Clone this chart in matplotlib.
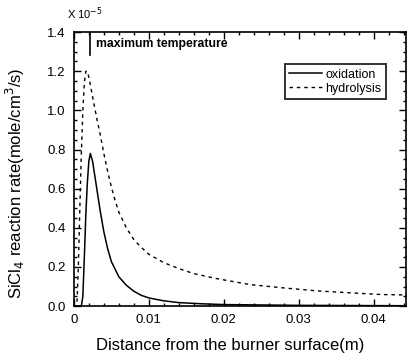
import matplotlib
matplotlib.use("Agg")
import matplotlib.pyplot as plt
from matplotlib.ticker import MultipleLocator, FormatStrFormatter

plt.rcParams['font.family'] = ['Liberation Sans', 'DejaVu Sans']

# data (rate in units of 1e-5 mole/cm3/s)
ox_x = [0.0, 0.0010, 0.0012, 0.0014, 0.0016, 0.0018, 0.0020, 0.0022, 0.0025,
        0.0030, 0.0035, 0.0040, 0.0045, 0.0050, 0.0060, 0.0070, 0.0080,
        0.0090, 0.0100, 0.0120, 0.0140, 0.0170, 0.0200, 0.0300, 0.0443]
ox_y = [0.0, 0.0, 0.05, 0.25, 0.47, 0.63, 0.74, 0.78, 0.74,
        0.615, 0.49, 0.38, 0.295, 0.228, 0.150, 0.107, 0.076,
        0.055, 0.042, 0.027, 0.018, 0.012, 0.008, 0.004, 0.002]

hy_x = [0.0, 0.0004, 0.0006, 0.0008, 0.0010, 0.0012, 0.0014, 0.0016, 0.0018,
        0.0020, 0.0024, 0.0030, 0.0035, 0.0040, 0.0045, 0.0050, 0.0055,
        0.0060, 0.0070, 0.0080, 0.0090, 0.0100, 0.0120, 0.0140, 0.0160,
        0.0190, 0.0235, 0.0280, 0.0324, 0.0368, 0.0412, 0.0443]
hy_y = [0.0, 0.0, 0.20, 0.50, 0.78, 1.00, 1.14, 1.20, 1.20,
        1.17, 1.09, 0.97, 0.88, 0.78, 0.69, 0.61, 0.54,
        0.48, 0.40, 0.34, 0.30, 0.265, 0.222, 0.192, 0.166,
        0.141, 0.110, 0.093, 0.078, 0.068, 0.059, 0.057]

marker_x = 0.0022
xticks = [0, 0.01, 0.02, 0.03, 0.04]
yticks = [0.0, 0.2, 0.4, 0.6, 0.8, 1.0, 1.2, 1.4]

fig = plt.figure(figsize=(4.08, 3.61), dpi=100)
ax = fig.add_axes([0.181, 0.152, 0.814, 0.759])

ax.plot(ox_x, ox_y, color='black', lw=1.1, label='oxidation')
ax.plot(hy_x, hy_y, color='black', lw=1.0, dashes=(2.5, 2.8), label='hydrolysis')
ax.plot([marker_x, marker_x], [1.4, 1.285], color='black', lw=1.2)
ax.text(marker_x + 0.0007, 1.34, 'maximum temperature', fontsize=8.8,
        fontweight='bold', va='center', ha='left')

ax.set_xlim(0, 0.0443)
ax.set_ylim(0, 1.4)
ax.set_xticks(xticks)
ax.set_xticklabels(['0', '0.01', '0.02', '0.03', '0.04'])
ax.set_yticks(yticks)
ax.yaxis.set_major_formatter(FormatStrFormatter('%.1f'))
ax.xaxis.set_minor_locator(MultipleLocator(0.002))
ax.yaxis.set_minor_locator(MultipleLocator(0.05))
ax.tick_params(which='both', direction='in', top=True, right=True, width=1.0,
               labelsize=9.5)
ax.tick_params(which='major', length=5, pad=6)
ax.tick_params(which='minor', length=2.5)
for s in ax.spines.values():
    s.set_linewidth(1.2)

ax.set_xlabel('Distance from the burner surface(m)', fontsize=12)
ax.set_ylabel('SiCl$_4$ reaction rate(mole/cm$^3$/s)', fontsize=12)
ax.xaxis.set_label_coords(0.47, -0.115)
ax.yaxis.set_label_coords(-0.14, 0.45)
fig.text(0.165, 0.94, r'X 10$^{-5}$', fontsize=8, ha='left', va='bottom')

leg = ax.legend(loc='upper right', bbox_to_anchor=(0.94, 0.882), fontsize=9,
                frameon=True, fancybox=False, edgecolor='black',
                handlelength=2.6, handletextpad=0.3, borderpad=0.35,
                labelspacing=0.15, borderaxespad=0)
leg.get_frame().set_linewidth(1.4)

fig.savefig('out.png', dpi=100)
